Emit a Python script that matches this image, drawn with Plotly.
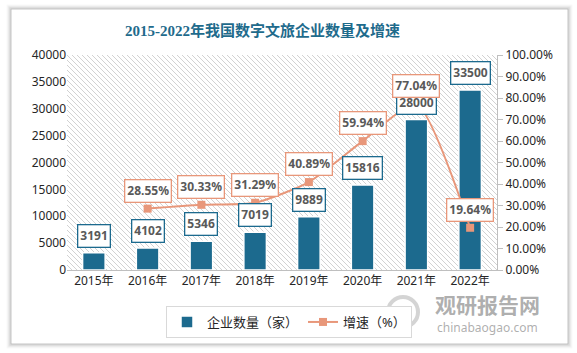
import base64
import plotly.graph_objects as go

years = ["2015年", "2016年", "2017年", "2018年", "2019年", "2020年", "2021年", "2022年"]
companies = [3191, 4102, 5346, 7019, 9889, 15816, 28000, 33500]
growth = [None, 28.55, 30.33, 31.29, 40.89, 59.94, 77.04, 19.64]
left_ticks = [0, 5000, 10000, 15000, 20000, 25000, 30000, 35000, 40000]
right_ticks = [0, 10, 20, 30, 40, 50, 60, 70, 80, 90, 100]

BAR = "#1c6a8e"
LINE = "#e8977a"
TXT = "#262626"
LBL = "#595959"
FONT = "Noto Sans, Noto Sans CJK SC, sans-serif"

W, H = 577, 353
L, R, T, B = 67, 497, 55, 270
pw, ph = R - L, B - T


def px(x):
    return (x - L) / pw


def py(y):
    return (B - y) / ph


# hatched plot background
svg = (
    f'<svg xmlns="http://www.w3.org/2000/svg" width="{pw}" height="{ph}">'
    '<defs><pattern id="p" patternUnits="userSpaceOnUse" width="5" height="5">'
    '<path d="M-1,-1 L6,6 M-1,4 L1,6 M4,-1 L6,1" stroke="#cdcdcd" stroke-width="0.9"/>'
    '</pattern></defs>'
    f'<rect width="{pw}" height="{ph}" fill="#ffffff"/>'
    f'<rect width="{pw}" height="{ph}" fill="url(#p)"/></svg>'
)
hatch = "data:image/svg+xml;base64," + base64.b64encode(svg.encode()).decode()

fig = go.Figure()
fig.add_trace(go.Bar(
    x=years, y=companies, name="企业数量（家）",
    marker=dict(color=BAR, line=dict(color="white", width=1.5)),
    width=0.42, yaxis="y",
))
fig.add_trace(go.Scatter(
    x=years, y=[g / 100 if g is not None else None for g in growth],
    name="增速（%）", mode="lines+markers", yaxis="y2",
    line=dict(color=LINE, width=2, shape="spline", smoothing=0.6),
    marker=dict(symbol="square", size=8, color=LINE),
))

ann = []
for x, v in zip(years, companies):
    ann.append(dict(x=x, y=v, xref="x", yref="y", text=f"<b>{v}</b>",
                    showarrow=False, yanchor="bottom", yshift=5,
                    font=dict(family=FONT, size=12, color=LBL),
                    bgcolor="white", bordercolor=BAR, borderwidth=1.3, borderpad=2))
for x, g in zip(years, growth):
    if g is None:
        continue
    ann.append(dict(x=x, y=g / 100, xref="x", yref="y2", text=f"<b>{g:.2f}%</b>",
                    showarrow=False, yanchor="bottom", yshift=6,
                    font=dict(family=FONT, size=12, color=LBL),
                    bgcolor="white", bordercolor=LINE, borderwidth=1.3, borderpad=2))

ann.append(dict(x=px(262), y=py(31), xref="paper", yref="paper",
                xanchor="center", yanchor="middle",
                text="<b>2015-2022年我国数字文旅企业数量及增速</b>", showarrow=False,
                font=dict(family="Liberation Serif, Noto Sans CJK SC, serif", size=15, color="#1f6b8c")))
ann.append(dict(x=px(487), y=py(304), xref="paper", yref="paper",
                xanchor="center", yanchor="middle",
                text="<b>观研报告网</b>", showarrow=False,
                font=dict(family="Noto Sans CJK SC", size=21, color="rgba(140,140,140,0.7)")))
ann.append(dict(x=px(487), y=py(327), xref="paper", yref="paper",
                xanchor="center", yanchor="middle",
                text="chinabaogao.com", showarrow=False,
                font=dict(family="Noto Sans", size=12, color="rgba(140,140,140,0.7)")))

shapes = []
# card shadow drawn as outlines around the card edge
cx0, cx1, cy0, cy1 = 12, 566, 10, 342
for i, a in enumerate([0.025, 0.035, 0.045, 0.06, 0.08]):
    d = 5 - i
    shapes.append(dict(type="rect", xref="paper", yref="paper", layer="below",
                       x0=px(cx0 - d / 2 - 0.5), x1=px(cx1 + d / 2 + 1.5),
                       y0=py(cy0 - d / 2 - 0.5), y1=py(cy1 + d / 2 + 1.5),
                       line=dict(color=f"rgba(0,0,0,{a})", width=d)))
# watermark swirl
shapes.append(dict(type="circle", xref="paper", yref="paper", layer="above",
                   x0=px(388), x1=px(418), y0=py(297), y1=py(327),
                   line=dict(color="rgba(160,160,160,0.45)", width=4)))

fig.update_layout(
    width=W, height=H,
    margin=dict(l=L, r=W - R, t=T, b=H - B),
    paper_bgcolor="white", plot_bgcolor="rgba(0,0,0,0)",
    font=dict(family=FONT, size=12, color=TXT),
    showlegend=True, bargap=0.5,
    legend=dict(orientation="h", x=px(289), y=py(322), xanchor="center", yanchor="middle",
                bordercolor="#d9d9d9", borderwidth=1, bgcolor="white",
                font=dict(family=FONT, size=13, color=TXT), itemwidth=30,
                tracegroupgap=0),
    xaxis=dict(type="category", showline=True, linecolor="#bfbfbf", linewidth=1,
               ticks="", showgrid=False, tickfont=dict(size=12, color=TXT)),
    yaxis=dict(range=[0, 40000], tickvals=left_ticks, ticktext=[str(t) for t in left_ticks],
               showgrid=False, zeroline=False,
               showline=False, ticks="", tickfont=dict(size=12, color=TXT)),
    yaxis2=dict(range=[0, 1], overlaying="y", side="right",
                tickvals=[t / 100 for t in right_ticks],
                ticktext=[f"{t:.2f}%" for t in right_ticks],
                showgrid=False, zeroline=False, showline=True, linecolor="#bfbfbf",
                ticks="outside", ticklen=5, tickcolor="#bfbfbf",
                tickfont=dict(size=12, color=TXT)),
    annotations=ann, shapes=shapes,
    images=[dict(source=hatch, xref="paper", yref="paper", x=0, y=1, sizex=1, sizey=1,
                 xanchor="left", yanchor="top", sizing="stretch", layer="below")],
)

fig.write_html("out.html")
